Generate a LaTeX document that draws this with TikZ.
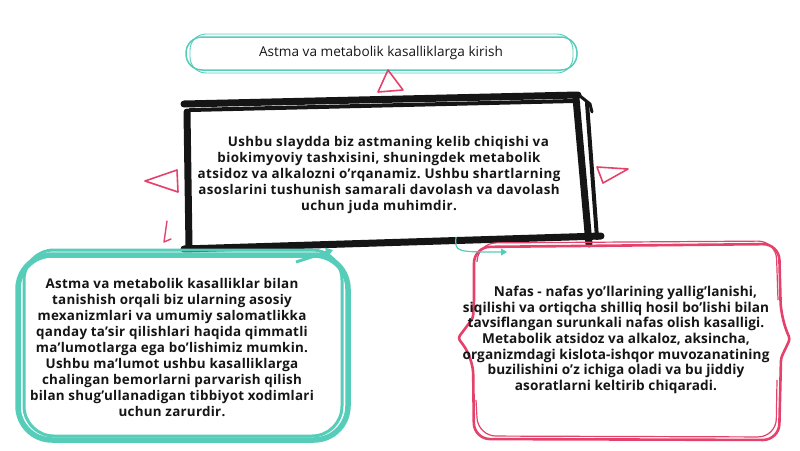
\documentclass[tikz,border=0pt]{standalone}
\usepackage{fontspec}
\setmainfont{Open Sans}
\usetikzlibrary{arrows.meta}
\definecolor{mint}{HTML}{55CDB8}
\definecolor{rose}{HTML}{E4416B}
\definecolor{ink}{HTML}{151515}
\frenchspacing

\begin{document}
\begin{tikzpicture}[x=1pt,y=-1pt,
  body/.style={font=\fontsize{13.4}{16}\selectfont\bfseries\addfontfeatures{LetterSpace=3}, align=center, text=ink},
  brush/.style={draw=ink, line width=7pt, line cap=round},
  pointer/.style={draw=rose, line width=1.6pt, line join=round}]
  \useasboundingbox (0,0) rectangle (800,450);

  \draw[mint, line width=1.5pt, rounded corners=16pt] (186,37) rectangle (577,70);
  \draw[mint, line width=0.9pt, rounded corners=16pt] (190,34) rectangle (573,73);
  \node[text=ink, font=\fontsize{13.6}{15}\selectfont] (title) at (381,53)
    {Astma va metabolik kasalliklarga kirish};

  \draw[pointer] (388,70) -- (378,92) -- (403,90) -- cycle;
  \draw[pointer] (145,181) -- (177,170) -- (178,192) -- cycle;
  \draw[pointer] (597,167) -- (628,169) -- (603,183) -- cycle;
  \draw[rose, line width=1.4pt, line cap=round, line join=round]
    (167,221) -- (164,242) -- (171,239);

  \draw[brush] (184,104) -- (578,95);
  \draw[brush, line width=4pt] (190,110) -- (574,101);
  \draw[brush, line width=3pt] (580,96) -- (590,104) -- (592,112);
  \draw[brush] (187,112) -- (189,247);
  \draw[brush] (576,98) -- (589,244);
  \draw[brush, line width=4pt] (587,103) -- (597,238);
  \draw[brush] (184,249) -- (601,236);
  \node[body] (intro) at (379,175)
    {\hspace{1.4em}Ushbu slaydda biz astmaning kelib chiqishi va\\
     biokimyoviy tashxisini, shuningdek metabolik\\
     atsidoz va alkalozni o'rqanamiz. Ushbu shartlarning\\
     asoslarini tushunish samarali davolash va davolash\\
     uchun juda muhimdir.};

  \draw[mint, line width=5.5pt, rounded corners=34pt] (18,255) rectangle (348,440);
  \draw[mint, line width=3pt, rounded corners=30pt] (24,250) rectangle (342,436);
  \draw[mint, line width=3pt, -{Triangle[length=7pt,width=9pt]}] (296,262) -- (333,250);
  \node[body, font=\fontsize{13.4}{16}\selectfont\bfseries\addfontfeatures{LetterSpace=2}] (gain) at (172,347)
    {Astma va metabolik kasalliklar bilan\\
     tanishish orqali biz ularning asosiy\\
     mexanizmlari va umumiy salomatlikka\\
     qanday ta'sir qilishlari haqida qimmatli\\
     ma'lumotlarga ega bo'lishimiz mumkin.\\
     Ushbu ma'lumot ushbu kasalliklarga\\
     chalingan bemorlarni parvarish qilish\\
     bilan shug'ullanadigan tibbiyot xodimlari\\
     uchun zarurdir.};

  \draw[rose, line width=2.6pt, line join=round, rounded corners=16pt]
    (474,300) -- (474,247) -- (779,244) -- (781,318)
    [rounded corners=3pt] -- (790,339) -- (781,358)
    [rounded corners=16pt] -- (779,440) -- (474,439) -- (473,358)
    [rounded corners=3pt] -- (458,338) -- (473,318)
    [rounded corners=16pt] -- (474,300);
  \draw[rose, line width=1.2pt, rounded corners=18pt]
    (477,262) -- (478,243) -- (776,241) -- (778,300);
  \draw[rose, line width=1.2pt, rounded corners=18pt]
    (777,380) -- (776,437) -- (478,436) -- (476,400);
  \coordinate (hookA) at (456,237);
  \coordinate (hookB) at (507,252);
  \draw[mint, line width=1.2pt, -{Triangle[length=6pt,width=7pt]}]
    (hookA) .. controls (455,252) .. (hookB);
  \node[body, font=\fontsize{13.6}{15.6}\selectfont\bfseries\addfontfeatures{LetterSpace=0.8}] (define) at (616,340)
    {\hspace{1.4em}Nafas - nafas yo'llarining yallig'lanishi,\\
     siqilishi va ortiqcha shilliq hosil bo'lishi bilan\\
     tavsiflangan surunkali nafas olish kasalligi.\\
     Metabolik atsidoz va alkaloz, aksincha,\\
     organizmdagi kislota-ishqor muvozanatining\\
     buzilishini o'z ichiga oladi va bu jiddiy\\
     asoratlarni keltirib chiqaradi.};
\end{tikzpicture}
\end{document}
